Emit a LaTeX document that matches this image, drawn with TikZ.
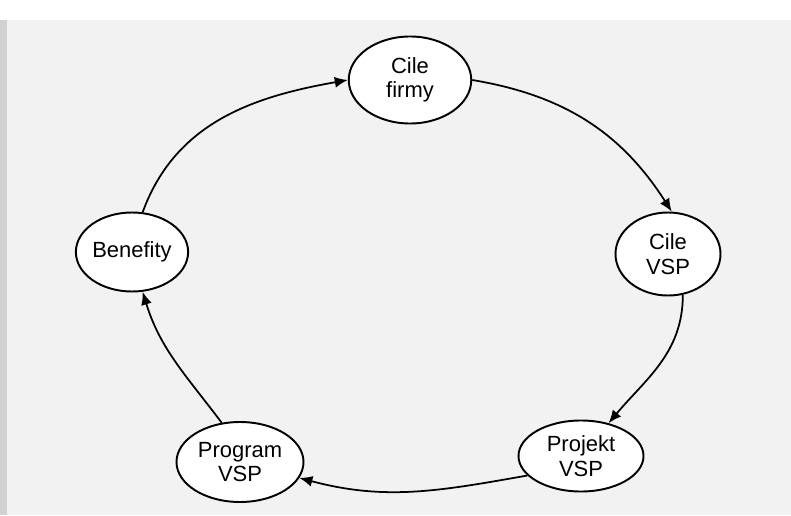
\documentclass[tikz,border=0pt]{standalone}
\usepackage{fontspec}
\setmainfont{Liberation Sans}
\usetikzlibrary{arrows.meta, shapes.geometric}

\begin{document}
\begin{tikzpicture}[
    goal/.style={ellipse, draw, line width=1.1pt, fill=white, align=center,
                 inner sep=0pt, font=\fontsize{12.5}{14}\selectfont},
    flow/.style={line width=1pt, -{Latex[length=2.6mm,width=2.2mm]}}
  ]
            % page area
            \useasboundingbox (0,0) rectangle (15.82,10.3);
            \fill[black!5] (0,0) rectangle (15.82,9.9);
            \fill[black!18] (0,0) rectangle (0.15,9.9);

            \node[goal, minimum width=2.45cm, minimum height=1.74cm] (firmy) at (8.2,8.7) {Cile\\firmy};
            \node[goal, minimum width=2.1cm, minimum height=1.66cm] (cilevsp) at (13.36,5.22) {Cile\\VSP};
            \node[goal, minimum width=2.5cm, minimum height=1.42cm] (projekt) at (11.62,1.18) {Projekt\\VSP};
            \node[goal, minimum width=2.54cm, minimum height=1.6cm] (program) at (4.8,1.06) {Program\\VSP};
            \node[goal, minimum width=2cm, minimum height=1.58cm] (benefity) at (2.64,5.26) {Benefity};

            \draw[flow] (firmy.east) to[bend left=24] (cilevsp.85);
            \draw[flow] (cilevsp.-70) to[out=-90, in=50] (projekt.50);
            \draw[flow] (projekt.200) to[out=190, in=-15] (program.-15);
            \draw[flow] (program.115) to[out=127, in=-73] (benefity.-75);
            \draw[flow] (benefity.75) to[out=70, in=190] (firmy.west);
\end{tikzpicture}
\end{document}
